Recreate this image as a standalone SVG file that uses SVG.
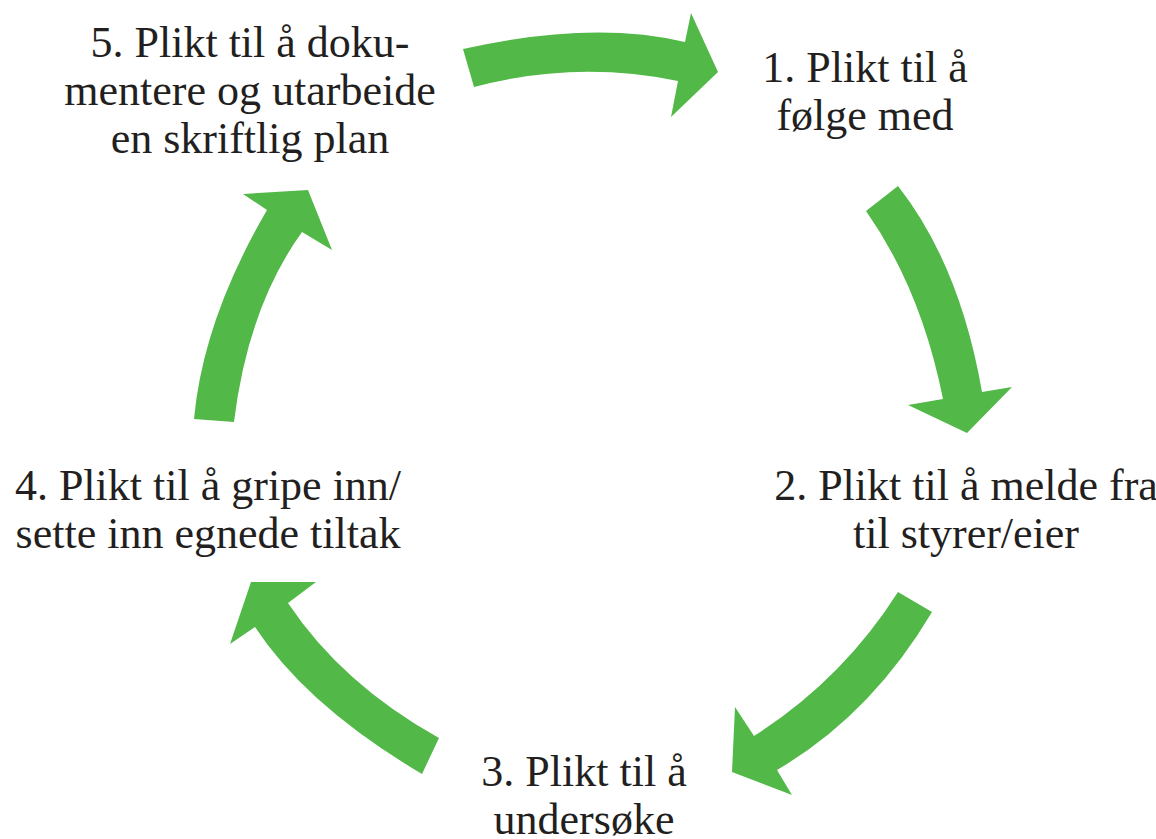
<svg xmlns="http://www.w3.org/2000/svg" width="1156" height="839" viewBox="0 0 1156 839">
<style>
.arrow{fill:#52b848;stroke:none}
.lbl{font-family:"Liberation Serif","Times New Roman",serif;font-size:44px;fill:#231f20;text-anchor:middle}
</style>
<rect width="1156" height="839" fill="#ffffff"/>
<g id="connectors">
<path id="arrow-5-1" class="arrow" d="M463,49 Q592,20 685,42 L691,13 L718,72 L671,117 L678,81 Q576,60 474,87 Z"/>
<path id="arrow-1-2" class="arrow" d="M898,186 Q960,265 982,392 L1012,387 L967,433 L908,405 L943,399 Q921,289 866,211 Z"/>
<path id="arrow-2-3" class="arrow" d="M932,612 Q871,715 777,770 L792,795 L732,772 L735,707 L754,736 Q842,680 898,592 Z"/>
<path id="arrow-3-4" class="arrow" d="M422,774 Q307,706 255,627 L230,644 L251,582 L316,582 L288,603 Q342,684 439,738 Z"/>
<path id="arrow-4-5" class="arrow" d="M194,419 Q203,320 267,210 L243,194 L308,190 L332,250 L302,232 Q248,307 234,422 Z"/>
</g>
<g id="node1"><text class="lbl" x="865" y="82">1. Plikt til å</text><text class="lbl" x="865" y="130">følge med</text></g>
<g id="node2"><text class="lbl" x="966" y="500">2. Plikt til å melde fra</text><text class="lbl" x="966" y="548">til styrer/eier</text></g>
<g id="node3"><text class="lbl" x="584" y="786">3. Plikt til å</text><text class="lbl" x="584" y="834">undersøke</text></g>
<g id="node4"><text class="lbl" x="208" y="500">4. Plikt til å gripe inn/</text><text class="lbl" x="208" y="548">sette inn egnede tiltak</text></g>
<g id="node5"><text class="lbl" x="250" y="57">5. Plikt til å doku-</text><text class="lbl" x="250" y="105">mentere og utarbeide</text><text class="lbl" x="250" y="153">en skriftlig plan</text></g>
</svg>
